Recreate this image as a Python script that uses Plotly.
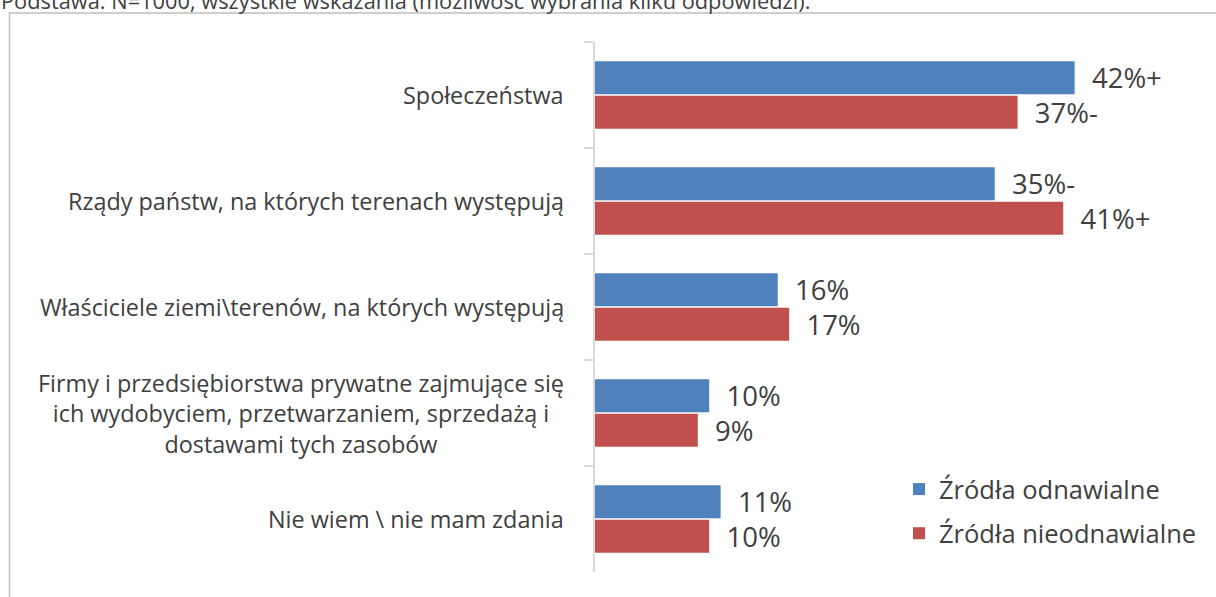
import plotly.graph_objects as go

categories = [
    "Społeczeństwa",
    "Rządy państw, na których terenach występują",
    "Właściciele ziemi\\terenów, na których występują",
    "Firmy i przedsiębiorstwa prywatne zajmujące się<br>ich wydobyciem, przetwarzaniem, sprzedażą i<br>dostawami tych zasobów",
    "Nie wiem \\ nie mam zdania",
]
series_names = ["Źródła odnawialne", "Źródła nieodnawialne"]
renewable = [42, 35, 16, 10, 11]
nonrenewable = [37, 41, 17, 9, 10]
renewable_labels = ["42%+", "35%-", "16%", "10%", "11%"]
nonrenewable_labels = ["37%-", "41%+", "17%", "9%", "10%"]
subtitle = "Podstawa: N=1000, wszystkie wskazania (możliwość wybrania kilku odpowiedzi)."

W, H = 1216, 597
L, R, T, B = 595, 21, 42, 25
PW, PH = W - L - R, H - T - B
FONT = "Open Sans"
TXT = "#404040"


def px(x):
    return (x - L) / PW


def py(y):
    return (H - B - y) / PH


fig = go.Figure()
colors = ["#4f81bd", "#c0504d"]
for name, vals, labs, col in zip(series_names, [renewable, nonrenewable],
                                   [renewable_labels, nonrenewable_labels], colors):
    fig.add_trace(go.Bar(
        y=categories, x=vals, orientation="h", name=name,
        marker=dict(color=col, line=dict(width=0)),
        text=labs, textposition="outside",
        texttemplate="\u00a0\u00a0%{text}",
        textfont=dict(family=FONT, size=27.5, color=TXT),
        cliponaxis=False, constraintext="none",
        legendgroup=name,
    ))

annotations = []
for c in categories:
    annotations.append(dict(
        x=px(566), xref="paper", y=c, yref="y", xanchor="right",
        text=c, showarrow=False, align="center",
        font=dict(family=FONT, size=23.4, color=TXT),
    ))
annotations.append(dict(
    x=px(-1), xref="paper", y=py(0), yref="paper", xanchor="left", yanchor="middle",
    text=subtitle, showarrow=False, font=dict(family=FONT, size=21.8, color=TXT),
))

fig.update_layout(
    width=W, height=H,
    margin=dict(l=L, r=R, t=T, b=B, autoexpand=False),
    paper_bgcolor="white", plot_bgcolor="white",
    barmode="group", bargap=0.35, bargroupgap=0.04,
    xaxis=dict(range=[0, PW / 11.42], visible=False, showgrid=False, zeroline=False),
    yaxis=dict(autorange="reversed", showticklabels=False, showline=True,
               linecolor="#d9d9d9", linewidth=1.5, ticks="outside",
               tickson="boundaries", ticklen=9, tickcolor="#d9d9d9", tickwidth=1.5,
               showgrid=False, zeroline=False),
    legend=dict(x=px(899), y=py(466), xanchor="left", yanchor="top",
                font=dict(family=FONT, size=25.5, color=TXT),
                traceorder="grouped", tracegroupgap=8,
                bgcolor="rgba(0,0,0,0)"),
    annotations=annotations,
    shapes=[dict(type="rect", xref="paper", yref="paper",
                 x0=px(9.5), x1=px(1225), y0=py(13), y1=py(610),
                 line=dict(color="#bfbfbf", width=1.5), layer="below")],
)

fig.write_html("out.html", config={"displayModeBar": False},
               post_script="document.body.style.margin='0';")
